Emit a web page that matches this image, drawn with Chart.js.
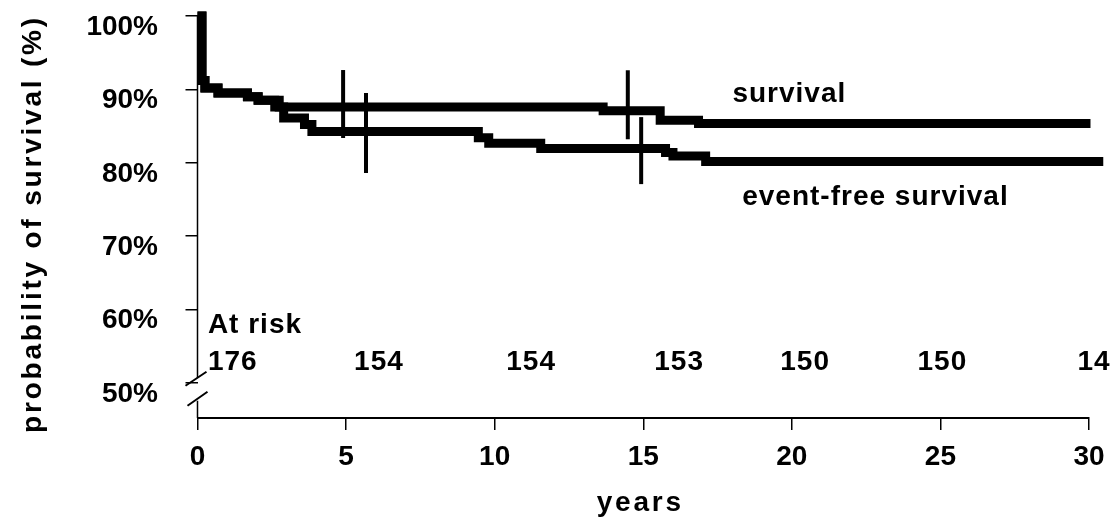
<!DOCTYPE html>
<html>
<head>
<meta charset="utf-8">
<script src="https://cdn.jsdelivr.net/npm/chart.js@4"></script>
<style>
  body { margin: 0; background: #fff; }
  #wrap { width: 1116px; height: 522px; }
</style>
</head>
<body>
<div id="wrap"><canvas id="chart"></canvas></div>
<script>
// Kaplan-Meier steps (years, percent after the step)
const survivalYears = [0, 0.15, 0.25, 0.69, 1.68, 2.04, 2.75, 13.65, 15.57, 16.86, 30.05];
const survivalValues = [100, 91.2, 90.2, 89.5, 89.0, 88.5, 87.6, 87.1, 85.8, 85.35, 85.35];

const eventFreeYears = [0, 0.15, 0.25, 0.69, 1.68, 2.04, 2.6, 2.9, 3.6, 3.85, 9.45, 9.8, 11.55, 15.75, 16.0, 17.1, 30.48];
const eventFreeValues = [100, 91.2, 90.2, 89.5, 89.0, 88.5, 87.6, 86.1, 85.2, 84.25, 83.4, 82.65, 81.95, 81.4, 80.9, 80.15, 80.15];

// censoring marks
const survivalCensorYears = [4.9, 14.48];
const survivalCensorValues = [88.0, 87.9];
const eventFreeCensorYears = [5.67, 14.93];
const eventFreeCensorValues = [84.05, 81.65];

// numbers at risk
const riskYears = [0.35, 5.27, 10.39, 15.37, 19.61, 24.23, 29.61];
const riskCounts = ['176', '154', '154', '153', '150', '150', '14'];

const yTickValues = [50, 60, 70, 80, 90, 100];

const FONT = '"Liberation Sans", Arial, sans-serif';

function toPoints(xs, ys) {
    return xs.map((x, i) => ({ x: x, y: ys[i] }));
}

const annotations = {
    id: 'annotations',
    afterDraw(chart) {
        const ctx = chart.ctx;
        const x = chart.scales.x;
        const y = chart.scales.y;
        const x0 = x.getPixelForValue(0);
        const y50 = y.getPixelForValue(50);

        ctx.save();
        ctx.strokeStyle = '#000';
        ctx.fillStyle = '#000';

        // y axis with a break just under 50%
        ctx.lineWidth = 1.5;
        ctx.beginPath();
        ctx.moveTo(x0, y.getPixelForValue(100));
        ctx.lineTo(x0, y50 - 5);
        ctx.moveTo(x0, y50 + 18);
        ctx.lineTo(x0, chart.chartArea.bottom);
        ctx.stroke();
        ctx.lineWidth = 2;
        ctx.beginPath();
        ctx.moveTo(x0 - 12, y50 + 3);
        ctx.lineTo(x0 + 9, y50 - 11);
        ctx.moveTo(x0 - 10, y50 + 23);
        ctx.lineTo(x0 + 10, y50 + 9);
        ctx.stroke();

        ctx.font = 'bold 28px ' + FONT;
        ctx.textBaseline = 'alphabetic';

        // y tick labels
        ctx.textAlign = 'right';
        yTickValues.forEach(v => {
            ctx.fillText(v + '%', x0 - 39.5, y.getPixelForValue(v) + 19);
        });

        // curve labels and at risk table, slightly spaced like the original
        ctx.letterSpacing = '1px';
        ctx.textAlign = 'left';
        ctx.fillText('survival', x.getPixelForValue(18.0), y.getPixelForValue(88.27));
        ctx.fillText('event-free survival', x.getPixelForValue(18.33), y.getPixelForValue(74.23));

        ctx.fillText('At risk', x.getPixelForValue(0.35), y.getPixelForValue(56.78));
        riskCounts.forEach((n, i) => {
            ctx.fillText(n, x.getPixelForValue(riskYears[i]), y.getPixelForValue(51.73));
        });

        // axis titles
        ctx.letterSpacing = '2.8px';
        ctx.textAlign = 'center';
        ctx.fillText('years', (chart.chartArea.left + chart.chartArea.right) / 2 - 3, 511);
        ctx.translate(41, 224);
        ctx.rotate(-Math.PI / 2);
        ctx.fillText('probability of survival (%)', 0, 0);
        ctx.restore();
    }
};

new Chart(document.getElementById('chart'), {
    type: 'line',
    data: {
        datasets: [{
            label: 'survival',
            data: toPoints(survivalYears, survivalValues),
            stepped: 'before',
            borderColor: '#000',
            borderWidth: 9,
            pointRadius: 0,
            clip: false
        }, {
            label: 'event-free survival',
            data: toPoints(eventFreeYears, eventFreeValues),
            stepped: 'before',
            borderColor: '#000',
            borderWidth: 9,
            pointRadius: 0,
            clip: false
        }, {
            label: 'survival censored',
            data: toPoints(survivalCensorYears, survivalCensorValues),
            showLine: false,
            pointStyle: 'line',
            pointRotation: 90,
            pointRadius: [34, 34.5],
            pointBorderWidth: 4,
            pointBorderColor: '#000',
            clip: false
        }, {
            label: 'event-free censored',
            data: toPoints(eventFreeCensorYears, eventFreeCensorValues),
            showLine: false,
            pointStyle: 'line',
            pointRotation: 90,
            pointRadius: [40, 33.5],
            pointBorderWidth: 4,
            pointBorderColor: '#000',
            clip: false
        }]
    },
    options: {
        responsive: true,
        maintainAspectRatio: false,
        animation: false,
        events: [],
        layout: { autoPadding: false, padding: { top: 16, right: 27, left: 0, bottom: 0 } },
        plugins: {
            legend: { display: false },
            tooltip: { enabled: false }
        },
        scales: {
            x: {
                type: 'linear',
                min: 0,
                max: 30,
                afterFit: scale => { scale.height = 104; },
                grid: { drawOnChartArea: false, drawTicks: true, tickLength: 12, color: '#000', lineWidth: 1.5 },
                border: { display: true, color: '#000', width: 2 },
                ticks: {
                    stepSize: 5,
                    autoSkip: false,
                    maxRotation: 0,
                    color: '#000',
                    padding: 10,
                    font: { family: FONT, size: 28, weight: 'bold' }
                }
            },
            y: {
                min: 45.2,
                max: 100,
                afterFit: scale => { scale.width = 197.5; },
                afterBuildTicks: scale => { scale.ticks = yTickValues.map(v => ({ value: v })); },
                grid: { drawOnChartArea: false, drawTicks: true, tickLength: 12, color: '#000', lineWidth: 1.5 },
                border: { display: false },
                ticks: { display: false }
            }
        }
    },
    plugins: [annotations]
});
</script>
</body>
</html>
